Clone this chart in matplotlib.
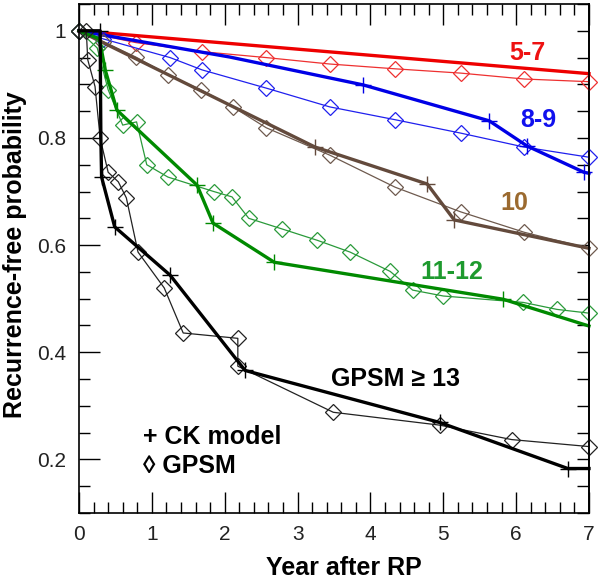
import matplotlib
matplotlib.use("Agg")
import matplotlib.pyplot as plt
import numpy as np
from matplotlib.ticker import MultipleLocator

plt.rcParams['font.family'] = ['Liberation Sans', 'DejaVu Sans']

# CK model curves (thick lines, + markers)
ck_57_x = [0, 7]
ck_57_y = [1.0, 0.92]
ck_57_marks = []

ck_89_x = [0, 2.07, 3.9, 5.63, 6.15, 6.93, 7.0]
ck_89_y = [1.0, 0.951, 0.899, 0.832, 0.785, 0.736, 0.734]
ck_89_marks = [2, 3, 4, 5]

ck_10_x = [0, 3.24, 4.78, 5.15, 7.0]
ck_10_y = [1.0, 0.783, 0.714, 0.647, 0.594]
ck_10_marks = [1, 2, 3]

ck_1112_x = [0, 0.28, 0.36, 0.52, 1.62, 1.84, 2.68, 5.82, 7.0]
ck_1112_y = [1.0, 0.985, 0.927, 0.852, 0.712, 0.641, 0.568, 0.499, 0.449]
ck_1112_marks = [2, 3, 4, 5, 6, 7]

ck_13_x = [0, 0.29, 0.30, 0.31, 0.49, 1.25, 2.28, 4.95, 6.71, 7.0]
ck_13_y = [1.0, 1.0, 0.80, 0.727, 0.634, 0.544, 0.366, 0.269, 0.183, 0.183]
ck_13_marks = [1, 3, 4, 5, 6, 7, 8]

# GPSM curves (thin lines, diamond markers)
gp_57_x = [0, 0.78, 1.69, 2.57, 3.44, 4.34, 5.24, 6.11, 7.0]
gp_57_y = [1.0, 0.978, 0.961, 0.950, 0.938, 0.929, 0.921, 0.910, 0.905]

gp_89_x = [0, 0.33, 1.25, 1.69, 2.57, 3.44, 4.34, 5.24, 6.11, 7.0]
gp_89_y = [1.0, 0.985, 0.95, 0.927, 0.893, 0.858, 0.834, 0.809, 0.783, 0.764]

gp_10_x = [0, 0.33, 0.78, 1.22, 1.67, 2.11, 2.57, 3.44, 4.34, 5.24, 6.11, 7.0]
gp_10_y = [1.0, 0.98, 0.951, 0.918, 0.890, 0.858, 0.819, 0.768, 0.708, 0.662,
           0.624, 0.594]

gp_1112_x = [0, 0.25, 0.40, 0.60, 0.79, 0.93, 1.22, 1.85, 2.10, 2.33, 2.79,
             3.27, 3.72, 4.27, 4.58, 5.0, 6.1, 6.56, 7.0]
gp_1112_y = [1.0, 0.968, 0.89, 0.824, 0.83, 0.75, 0.727, 0.70, 0.69, 0.65,
             0.63, 0.609, 0.587, 0.551, 0.516, 0.505, 0.493, 0.48, 0.473]

gp_13_x = [0, 0.1, 0.12, 0.22, 0.29, 0.40, 0.54, 0.65, 0.81, 1.17, 1.43,
           2.18, 2.18, 3.49, 4.95, 5.94, 7.0]
gp_13_y = [1.0, 1.0, 0.946, 0.896, 0.80, 0.736, 0.718, 0.688, 0.587, 0.52,
           0.436, 0.426, 0.374, 0.288, 0.264, 0.237, 0.224]

groups = [
    ("5-7", ck_57_x, ck_57_y, ck_57_marks, gp_57_x, gp_57_y,
     '#ee0000', '#ee3030', '#ee1111', 6.15, 0.959),
    ("8-9", ck_89_x, ck_89_y, ck_89_marks, gp_89_x, gp_89_y,
     '#0000e6', '#2020ee', '#1111ee', 6.30, 0.834),
    ("10", ck_10_x, ck_10_y, ck_10_marks, gp_10_x, gp_10_y,
     '#634a3c', '#6e5a4e', '#9b6a2f', 5.98, 0.679),
    ("11-12", ck_1112_x, ck_1112_y, ck_1112_marks, gp_1112_x, gp_1112_y,
     '#008a00', '#2a9a3a', '#1e9a2e', 5.12, 0.550),
    ("GPSM \u2265 13", ck_13_x, ck_13_y, ck_13_marks, gp_13_x, gp_13_y,
     '#000000', '#222222', '#000000', 4.34, 0.350),
]

fig = plt.figure(figsize=(6.01, 5.79), dpi=100)
ax = fig.add_axes([79 / 601, 1 - 513 / 579, 510 / 601, 509 / 579])

for (label, cx, cy, marks, gx, gy, ck_col, gp_col, txt_col,
     tx, ty) in groups:
    ax.plot(gx, gy, color=gp_col, lw=0.9, marker='D', ms=8.5,
            mfc='none', mec=gp_col, mew=0.9, clip_on=False)
    ax.plot(cx, cy, color=ck_col, lw=2.4, marker='+', ms=12, mew=1.0,
            markevery=marks, clip_on=False)
    ax.text(tx, ty, label, color=txt_col, fontsize=18, fontweight='bold',
            ha='center', va='center')

# legend written as text
ax.text(0.88, 0.241, "+ CK model", fontsize=18, fontweight='bold',
        ha='left', va='center')
ax.text(0.88, 0.187, "\u25ca GPSM", fontsize=18, fontweight='bold',
        ha='left', va='center')

ax.set_xlim(0, 7)
ax.set_ylim(0.1, 1.05)
ax.set_xticks(np.arange(0, 8, 1))
ax.set_yticks([0.2, 0.4, 0.6, 0.8, 1.0])
ax.set_yticklabels(["0.2", "0.4", "0.6", "0.8", "1"])
ax.xaxis.set_minor_locator(MultipleLocator(0.2))
ax.yaxis.set_minor_locator(MultipleLocator(0.05))
ax.tick_params(which='both', direction='in', top=True, right=False,
               labelsize=15, labelcolor='#222222', width=1.0)
ax.tick_params(which='major', length=15, pad=9)
ax.tick_params(which='minor', length=8)

# right side: short ticks only
sec = ax.secondary_yaxis('right')
sec.set_yticks(np.arange(0.1, 1.051, 0.05))
sec.tick_params(direction='in', length=9, width=1.0, labelright=False)
sec.spines['right'].set_linewidth(1.2)

for s in ax.spines.values():
    s.set_linewidth(1.2)

ax.set_xlabel("Year after RP", fontsize=18, fontweight='bold')
ax.set_ylabel("Recurrence-free probability", fontsize=18, fontweight='bold')
ax.xaxis.set_label_coords(0.52, -0.084)
ax.yaxis.set_label_coords(-0.102, 0.507)

fig.savefig("out.png", dpi=100)
